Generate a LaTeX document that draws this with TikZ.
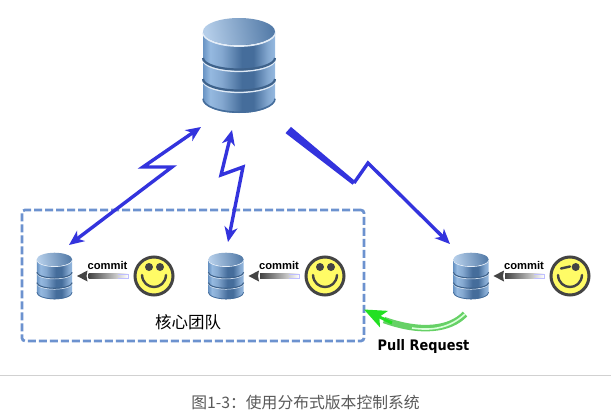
\documentclass[tikz,border=0pt]{standalone}
\usepackage{fontspec}
\setmainfont{Liberation Sans}
\newfontfamily\cjkfont{Noto Sans CJK SC}
\newfontfamily\prfont{DejaVu Sans}
\usetikzlibrary{arrows.meta,calc}
\definecolor{boltblue}{HTML}{3333DD}
\definecolor{dashblue}{HTML}{6C92CF}
\definecolor{facegold}{HTML}{FFFB66}
\definecolor{faceline}{HTML}{444444}
\definecolor{pullgreen}{HTML}{55CC55}
\definecolor{pullhead}{HTML}{22E022}
\definecolor{dbA}{HTML}{6994C4}
\definecolor{dbB}{HTML}{95B9E0}
\definecolor{dbC}{HTML}{84A8D0}
\definecolor{dbD}{HTML}{456D9B}
\pgfdeclarehorizontalshading{dbbody}{100bp}{
  color(0bp)=(dbA); color(25bp)=(dbA); color(30bp)=(dbB); color(38bp)=(dbC);
  color(52bp)=(dbD); color(60bp)=(dbD); color(70bp)=(dbC); color(75bp)=(dbB); color(100bp)=(dbB)}
\tikzset{
  bolt/.style={draw=boltblue,line width=3.4pt,line join=miter,miter limit=12},
  bolthead/.style={-{Stealth[length=15pt,width=13pt,inset=4.5pt]}},
  boltheads/.style={{Stealth[length=15pt,width=13pt,inset=4.5pt]}-{Stealth[length=15pt,width=13pt,inset=4.5pt]}},
  anchorbox/.style={inner sep=0pt,minimum width=36pt,minimum height=46pt},
  face/.style={circle,draw=faceline,line width=3pt,fill=facegold,minimum size=38pt,inner sep=0pt},
  committext/.style={font=\fontsize{11.2pt}{12pt}\selectfont\bfseries,inner sep=0pt},
}
% name, x, y, scale
\newcommand\dbicon[4]{%
  \node[anchorbox,minimum width=#4*72pt,minimum height=#4*95pt] (#1) at (#2,#3) {};
  \begin{scope}[shift={(#2,#3)},scale=#4]
    \shade[shading=dbbody] (-36,-34) -- (-36,34) arc[start angle=180,end angle=0,x radius=36,y radius=13.5] -- (36,-34) -- cycle;
    \foreach \yy in {-7.5,13.5} {
      \draw[line width=#4*1.6pt,draw=white!70!dbB] (-36,\yy+1.8) arc[start angle=180,end angle=0,x radius=36,y radius=11.5];
      \draw[line width=#4*2.2pt,draw=black!10!dbD] (-36,\yy) arc[start angle=180,end angle=0,x radius=36,y radius=11.5];
    }
    \draw[line width=#4*1.6pt,draw=dbD] (-36,33.2) arc[start angle=180,end angle=0,x radius=36,y radius=13.5];
    \draw[line width=#4*1.8pt,draw=white!75!dbB] (-36,-33) arc[start angle=180,end angle=0,x radius=36,y radius=13.5];
    \shade[left color=dbB!70!white,right color=dbD!80!dbB,shading angle=100] (0,-34) ellipse[x radius=36,y radius=13.5];
  \end{scope}}
% name, x, y
\newcommand\smileface[3]{%
  \node[face] (#1) at (#2,#3) {};
  \draw[faceline,line width=2.4pt,line cap=round] (#2-12,#3-1) .. controls (#2-11,#3+15) and (#2+11,#3+15) .. (#2+12,#3-1);}
% face, db, label name
\newcommand\commitarrow[3]{%
  \shade[left color=faceline,right color=white] ([shift={(-26,-2.2)}]#1.center) rectangle ([shift={(34,2.2)}]#2.center);
  \draw[blue!25!white,line width=.6pt] ([shift={(-36,-2.2)}]#1.center) -- ([shift={(-26,-2.2)}]#1.center) -- ([shift={(-26,2.2)}]#1.center) -- ([shift={(-36,2.2)}]#1.center);
  \fill[faceline] ([shift={(22.5,0)}]#2.center) -- ([shift={(33,-5.5)}]#2.center) -- ([shift={(32,0)}]#2.center) -- ([shift={(33,5.5)}]#2.center) -- cycle;
  \node[committext] (#3) at ([shift={(53,-11)}]#2.center) {commit};}
\begin{document}
\begin{tikzpicture}[x=1pt,y=-1pt]
\useasboundingbox (0,0) rectangle (611,418);
\fill[white] (0,0) rectangle (611,418);
% team box
\node[draw=dashblue,line width=2.7pt,dash pattern=on 8pt off 3pt,rounded corners=3pt,minimum width=342pt,minimum height=131pt,inner sep=0pt] (team) at (193,275.5) {};
\node[font=\cjkfont\fontsize{16.5pt}{17pt}\selectfont,inner sep=0pt] (teamlabel) at (188,322) {核心团队};
% databases
\dbicon{central}{239}{65.5}{1}
\dbicon{dba}{54.5}{276}{0.49}
\dbicon{dbb}{226}{276}{0.49}
\dbicon{dbc}{471}{276}{0.49}
% faces
\smileface{fa}{154}{276}
\fill[faceline] (149,267) circle[radius=4] (160,267) circle[radius=4];
\smileface{fb}{325}{276}
\fill[faceline] (320,267) circle[radius=4] (331,267) circle[radius=4];
\smileface{fc}{570}{276}
\fill[faceline] (575.7,267) circle[radius=4];
\draw[faceline,line width=2.4pt,line cap=round] (561,268.5) -- (570,266.5);
% commit
\commitarrow{fa}{dba}{ca}
\commitarrow{fb}{dbb}{cb}
\commitarrow{fc}{dbc}{cc}
% lightning connectors
\draw[bolt,boltheads] ([shift={(14.5,-31)}]dba.center) -- (172,167) -- (143,167) -- ([shift={(-38,61.5)}]central.center);
\draw[bolt,boltheads] ([shift={(2,-34)}]dbb.center) -- (243,167) -- (221,175) -- ([shift={(-7,64.5)}]central.center);
\fill[boltblue] ([shift={(52,61.4)}]central.center) -- (355.4,181.3) -- (352.6,184.7) -- ([shift={(46.5,67.6)}]central.center) -- cycle;
\draw[bolt,bolthead] (354,183) -- (368,163) -- ([shift={(-21,-32)}]dbc.center);
% pull request
\coordinate (pullstart) at ([shift={(-6,38)}]dbc.center);
\coordinate (pullend) at ([shift={(171,34)}]team.center);
\draw[pullgreen!90!white,line width=6.5pt] (pullstart) .. controls (450,330) and (420,333) .. (384,320);
\draw[green!15!white,line width=1.6pt] (pullstart) .. controls (450,328) and (432,331) .. (412,328);
\draw[pullhead,line width=3pt,-{Stealth[length=22pt,width=18pt,inset=5pt]}] (392,323) -- (pullend);
\node[font=\prfont\bfseries\fontsize{14.5pt}{15pt}\selectfont,inner sep=0pt,xscale=.89] (prlabel) at (423.5,346) {Pull Request};
% footer
\coordinate (ruleL) at (0,375.5); \coordinate (ruleR) at (611,375.5);
\draw[black!18,line width=1pt] (ruleL) -- (ruleR);
\node[font=\cjkfont\fontsize{15.8pt}{16pt}\selectfont,text=black!65,inner sep=0pt] (caption) at (305.5,402) {图1-3：使用分布式版本控制系统};
\end{tikzpicture}
\end{document}
